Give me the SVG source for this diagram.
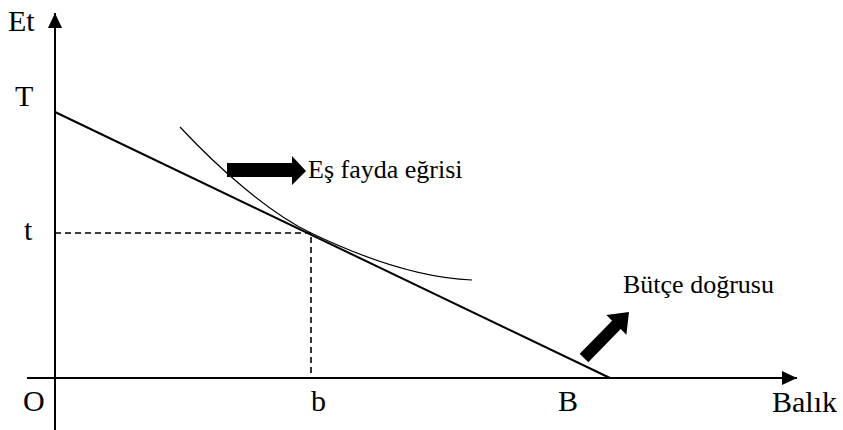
<svg xmlns="http://www.w3.org/2000/svg" width="843" height="430" viewBox="0 0 843 430">
<style>
.axis{stroke:#000;stroke-width:2;fill:none}
.dash{stroke:#000;stroke-width:1.6;stroke-dasharray:6,4;fill:none}
.blk{fill:#000;stroke:none}
</style>
<defs>
<marker id="ah" viewBox="0 0 15 14" refX="15" refY="7" markerWidth="15" markerHeight="14" markerUnits="userSpaceOnUse" orient="auto">
<path d="M0,0 L15,7 L0,14 Z" fill="#000"/>
</marker>
</defs>
<rect width="843" height="430" fill="#fff"/>
<g id="axes">
<line class="axis" x1="55" y1="430" x2="55" y2="13" marker-end="url(#ah)"/>
<line class="axis" x1="27" y1="378" x2="797" y2="378" marker-end="url(#ah)"/>
</g>
<g id="connectors">
<line id="budget" x1="55" y1="112" x2="610" y2="378" stroke="#000" stroke-width="2"/>
<path id="indiff" d="M180,127 C220,170 270,213.3 311,233 C360,256.5 420,278 472,280" fill="none" stroke="#000" stroke-width="1.2"/>
<polyline class="dash" points="55,233 311,233 311,378"/>
<polygon class="blk" points="227,163 292,163 292,156 306,171 292,185 292,177 227,177"/>
<polygon class="blk" points="579.7,353.8 612.1,320.7 606.4,315.1 629,312 626.4,334.7 620.7,329.1 588.3,362.2"/>
</g>
<g id="labels" fill="#000" font-family="Liberation Serif">
<text x="8" y="31" font-size="30">Et</text>
<text x="15" y="106" font-size="30">T</text>
<text x="24" y="240" font-size="30">t</text>
<text x="23" y="411" font-size="30">O</text>
<text x="311" y="411" font-size="30">b</text>
<text x="558" y="411" font-size="30">B</text>
<text x="772" y="412" font-size="30">Balık</text>
<text x="308" y="178" font-size="26">Eş fayda eğrisi</text>
<text x="623" y="293" font-size="26">Bütçe doğrusu</text>
</g>
</svg>
